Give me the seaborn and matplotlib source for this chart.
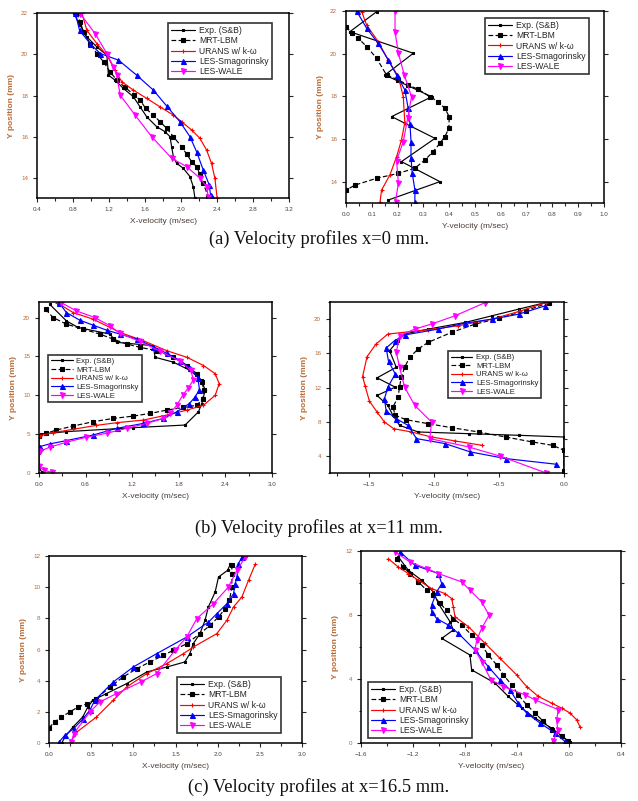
import matplotlib
matplotlib.use("Agg")
import matplotlib.pyplot as plt
import seaborn as sns
from matplotlib.ticker import MultipleLocator

sns.set_theme(style="white")
plt.rcParams["font.family"] = ["Liberation Sans", "DejaVu Sans"]

# ---------------- series names ----------------
SERIES = ["Exp. (S&B)", "MRT-LBM", "URANS w/ k-ω", "LES-Smagorinsky", "LES-WALE"]

# ---------------- (a) x = 0 mm, X-velocity ----------------
a1_exp_v = [0.806, 0.88, 0.954, 1.065, 1.176, 1.194, 1.268, 1.36, 1.471, 1.545, 1.619, 1.73, 1.822, 1.878, 1.896, 1.915, 1.951, 2.025, 2.099, 2.136, 2.155]
a1_exp_y = [22.0, 21.4, 20.84, 20.36, 19.96, 18.99, 18.75, 18.35, 17.95, 17.46, 16.98, 16.5, 16.26, 16.02, 15.53, 15.05, 14.73, 14.49, 14.09, 13.6, 13.04]
a1_mrt_v = [0.84, 0.88, 0.917, 0.991, 1.065, 1.139, 1.213, 1.287, 1.379, 1.482, 1.545, 1.608, 1.693, 1.767, 1.841, 1.915, 2.007, 2.062, 2.118, 2.173, 2.21, 2.247, 2.302]
a1_mrt_y = [22.0, 21.57, 21.08, 20.52, 20.04, 19.64, 19.15, 18.75, 18.40, 18.03, 17.79, 17.38, 17.06, 16.74, 16.42, 16.02, 15.53, 15.18, 14.81, 14.57, 14.2, 13.76, 13.12]
a1_ura_v = [0.899, 0.954, 1.065, 1.176, 1.268, 1.342, 1.471, 1.619, 1.767, 1.915, 2.007, 2.118, 2.21, 2.284, 2.339, 2.376, 2.402]
a1_ura_y = [22.0, 21.16, 20.52, 19.96, 19.23, 18.67, 18.27, 17.87, 17.46, 17.06, 16.74, 16.34, 15.94, 15.37, 14.73, 14.01, 13.04]
a1_smg_v = [0.825, 0.873, 0.991, 1.102, 1.305, 1.508, 1.693, 1.841, 1.988, 2.099, 2.173, 2.247, 2.314, 2.328]
a1_smg_y = [22.0, 21.16, 20.52, 20.04, 19.72, 18.99, 18.27, 17.5, 16.74, 16.02, 15.29, 14.41, 13.68, 13.2]
a1_wal_v = [0.88, 1.046, 1.176, 1.25, 1.287, 1.324, 1.49, 1.674, 1.896, 2.062, 2.21, 2.284, 2.302]
a1_wal_y = [21.97, 21.0, 20.04, 19.39, 18.99, 18.03, 17.06, 16.02, 14.97, 14.57, 14.01, 13.6, 13.12]

# ---------------- (a) x = 0 mm, Y-velocity ----------------
a2_exp_v = [0.119, 0.015, 0.261, 0.151, 0.332, 0.177, 0.345, 0.215, 0.364, 0.164]
a2_exp_y = [21.97, 21.03, 20.02, 19.0, 17.98, 17.05, 16.03, 14.94, 14.0, 13.14]
a2_mrt_v = [0.001, 0.022, 0.048, 0.08, 0.119, 0.157, 0.203, 0.241, 0.28, 0.325, 0.357, 0.383, 0.4, 0.399, 0.383, 0.364, 0.338, 0.306, 0.267, 0.203, 0.119, 0.035, 0.001]
a2_mrt_y = [21.27, 20.95, 20.72, 20.33, 19.78, 19.0, 18.77, 18.53, 18.33, 17.98, 17.75, 17.44, 17.05, 16.5, 16.11, 15.8, 15.41, 15.02, 14.63, 14.39, 14.16, 13.84, 13.61]
a2_ura_v = [0.061, 0.08, 0.125, 0.164, 0.203, 0.222, 0.228, 0.215, 0.196, 0.17, 0.138, 0.132]
a2_ura_y = [21.97, 21.34, 20.56, 19.7, 18.92, 17.98, 16.77, 15.95, 15.17, 14.31, 13.61, 13.06]
a2_smg_v = [0.041, 0.08, 0.125, 0.164, 0.196, 0.228, 0.241, 0.248, 0.252, 0.252, 0.257, 0.267, 0.267]
a2_smg_y = [22.0, 21.19, 20.48, 19.7, 19.0, 18.3, 17.44, 16.7, 15.88, 15.09, 14.39, 13.61, 13.06]
a2_wal_v = [0.19, 0.19, 0.203, 0.226, 0.254, 0.239, 0.222, 0.196, 0.203, 0.192]
a2_wal_y = [22.0, 21.03, 20.02, 19.0, 17.98, 16.97, 15.88, 14.98, 13.95, 13.06]

# ---------------- (b) x = 11 mm, X-velocity ----------------
b1_exp_v = [0.138, 0.353, 0.504, 0.913, 0.999, 1.472, 1.494, 1.731, 1.946, 2.096, 2.139, 2.096, 2.053, 1.881, 1.214, 0.353, 0.03, 0.0, 0.0, 0.0, 0.04]
b1_exp_y = [21.7, 19.57, 18.72, 17.87, 16.81, 16.38, 14.89, 14.26, 13.19, 11.91, 10.64, 8.94, 7.87, 6.17, 5.83, 5.32, 5.02, 4.68, 2.55, 0.6, 0.1]
b1_mrt_v = [0.086, 0.181, 0.353, 0.568, 0.783, 0.956, 1.128, 1.3, 1.515, 1.731, 1.903, 2.032, 2.096, 2.127, 2.109, 2.032, 1.86, 1.644, 1.429, 1.214, 0.956, 0.697, 0.439, 0.224, 0.095, 0.0]
b1_mrt_y = [21.06, 20.0, 19.15, 18.51, 17.87, 17.23, 16.6, 16.17, 15.74, 14.89, 13.83, 12.77, 11.7, 10.64, 9.57, 8.72, 8.43, 8.09, 7.66, 7.32, 7.02, 6.6, 6.04, 5.53, 5.11, 4.77]
b1_ura_v = [0.232, 0.439, 0.697, 1.042, 1.343, 1.644, 1.903, 2.118, 2.269, 2.32, 2.269, 2.118, 1.903, 1.644, 1.343, 0.999, 0.74, 0.439, 0.181, 0.009]
b1_ura_y = [21.91, 20.64, 19.79, 18.09, 17.02, 15.74, 14.89, 13.83, 12.77, 11.49, 10.0, 8.72, 8.09, 7.45, 6.81, 6.47, 6.13, 5.62, 5.19, 4.81]
b1_smg_v = [0.258, 0.353, 0.525, 0.697, 0.87, 1.042, 1.257, 1.472, 1.644, 1.817, 1.946, 2.045, 2.066, 2.01, 1.937, 1.774, 1.601, 1.343, 0.999, 0.697, 0.353, 0.138, 0.009]
b1_smg_y = [21.91, 20.64, 19.66, 19.02, 18.38, 17.87, 17.23, 16.26, 15.4, 14.47, 13.53, 12.26, 10.72, 9.79, 8.94, 7.87, 7.02, 6.38, 5.74, 4.89, 4.17, 3.74, 3.4]
b1_wal_v = [0.288, 0.482, 0.719, 0.913, 1.042, 1.3, 1.558, 1.817, 1.954, 1.989, 1.924, 1.851, 1.774, 1.687, 1.601, 1.386, 1.128, 0.87, 0.611, 0.353, 0.138, 0.009, 0.0, 0.06, 0.172]
b1_wal_y = [21.91, 20.85, 20.0, 18.94, 17.96, 16.94, 15.66, 14.38, 13.19, 12.0, 10.98, 10.0, 8.72, 7.66, 7.02, 6.38, 5.74, 5.11, 4.6, 3.96, 3.32, 2.77, 0.9, 0.35, 0.08]

# ---------------- (b) x = 11 mm, Y-velocity ----------------
b2_exp_v = [-0.14, -0.347, -0.553, -0.76, -1.045, -1.226, -1.277, -1.342, -1.29, -1.438, -1.298, -1.438, -1.355, -1.316, -1.265, -1.122, -0.734, -0.347, 0.0, 0.0]
b2_exp_y = [21.94, 21.17, 20.39, 19.61, 18.83, 18.25, 17.48, 16.31, 14.37, 13.13, 12.04, 11.07, 9.9, 8.74, 7.57, 6.8, 6.6, 6.41, 6.21, 2.02]
b2_mrt_v = [-0.114, -0.295, -0.502, -0.683, -0.864, -1.045, -1.122, -1.187, -1.226, -1.252, -1.265, -1.277, -1.316, -1.298, -1.213, -1.045, -0.864, -0.657, -0.45, -0.243, -0.088, 0.0, 0.0]
b2_mrt_y = [21.94, 20.97, 20.08, 19.42, 18.45, 17.28, 16.5, 15.53, 14.37, 13.2, 12.04, 10.87, 9.71, 8.74, 8.23, 7.77, 7.3, 6.8, 6.21, 5.63, 5.24, 4.66, 2.2]
b2_ura_v = [-0.14, -0.347, -0.553, -0.812, -1.045, -1.355, -1.446, -1.515, -1.549, -1.531, -1.497, -1.438, -1.381, -1.309, -1.174, -1.019, -0.838, -0.631]
b2_ura_y = [21.94, 20.89, 20.0, 19.22, 18.76, 18.25, 17.09, 15.61, 13.28, 12.23, 10.41, 9.13, 7.96, 7.18, 6.8, 6.21, 5.75, 5.24]
b2_smg_v = [-0.145, -0.347, -0.553, -0.76, -0.967, -1.226, -1.303, -1.368, -1.35, -1.298, -1.355, -1.381, -1.368, -1.29, -1.2, -1.135, -0.915, -0.722, -0.45, -0.062]
b2_smg_y = [21.55, 20.58, 20.0, 19.53, 18.83, 18.14, 17.48, 16.62, 15.07, 13.59, 12.04, 10.68, 9.24, 8.35, 7.57, 6.02, 5.44, 4.47, 3.69, 3.03]
b2_wal_v = [-0.605, -0.838, -1.019, -1.148, -1.265, -1.29, -1.265, -1.226, -1.148, -1.019, -1.032, -0.734, -0.489, -0.14]
b2_wal_y = [21.94, 20.39, 19.42, 18.83, 18.06, 16.12, 14.37, 12.04, 9.9, 7.96, 6.02, 5.05, 3.96, 2.02]

# ---------------- (c) x = 16.5 mm, X-velocity ----------------
c1_exp_v = [2.15, 2.117, 2.01, 1.97, 1.89, 1.85, 1.79, 1.71, 1.67, 1.61, 1.40, 1.16, 0.92, 0.68, 0.52, 0.46, 0.40, 0.285, 0.19, 0.15]
c1_exp_y = [11.47, 11.08, 10.65, 9.69, 8.73, 7.87, 7.02, 6.37, 5.73, 5.2, 4.88, 4.56, 3.81, 3.17, 2.74, 2.31, 1.67, 1.03, 0.39, 0.0]
c1_mrt_v = [0.0, 0.067, 0.147, 0.246, 0.345, 0.452, 0.563, 0.721, 0.88, 1.04, 1.197, 1.356, 1.474, 1.633, 1.79, 1.91, 2.01, 2.089, 2.14, 2.168, 2.168, 2.168]
c1_mrt_y = [0.98, 1.35, 1.67, 1.99, 2.31, 2.52, 2.84, 3.59, 4.24, 4.77, 5.2, 5.63, 5.95, 6.37, 7.02, 7.55, 8.09, 8.62, 9.16, 10.01, 10.87, 11.4]
c1_ura_v = [0.266, 0.305, 0.563, 0.761, 0.92, 1.157, 1.395, 1.593, 1.712, 1.99, 2.109, 2.188, 2.287, 2.366, 2.445]
c1_ura_y = [0.06, 0.6, 1.67, 2.74, 3.59, 4.45, 5.09, 5.73, 6.16, 7.02, 7.87, 8.73, 9.37, 10.44, 11.47]
c1_smg_v = [0.119, 0.186, 0.293, 0.404, 0.484, 0.543, 0.761, 1.0, 1.276, 1.633, 1.891, 1.99, 2.109, 2.188, 2.208, 2.228, 2.247, 2.287]
c1_smg_y = [0.06, 0.49, 0.92, 1.56, 2.1, 2.74, 3.91, 4.88, 5.73, 6.8, 7.76, 8.3, 8.94, 9.58, 10.22, 10.65, 11.51, 11.94]
c1_wal_v = [0.266, 0.293, 0.484, 0.602, 0.8, 1.086, 1.276, 1.494, 1.633, 1.752, 1.95, 2.128, 2.228, 2.327]
c1_wal_y = [0.06, 0.6, 1.99, 2.63, 3.17, 3.91, 4.45, 5.95, 6.8, 7.98, 8.94, 10.01, 11.08, 11.94]

# ---------------- (c) x = 16.5 mm, Y-velocity ----------------
c2_exp_v = [-1.313, -1.236, -1.133, -1.044, -1.005, -0.915, -0.89, -0.979, -0.762, -0.749, -0.569, -0.467, -0.364, -0.262, -0.133, 0.008]
c2_exp_y = [11.63, 10.8, 10.17, 9.45, 8.72, 7.58, 7.06, 6.54, 5.5, 4.57, 3.74, 2.91, 2.18, 1.56, 0.93, 0.04]
c2_mrt_v = [-1.326, -1.274, -1.223, -1.159, -1.095, -1.044, -0.992, -0.941, -0.89, -0.826, -0.749, -0.672, -0.621, -0.556, -0.505, -0.441, -0.39, -0.326, -0.262, -0.197, -0.133, -0.056, -0.005]
c2_mrt_y = [11.52, 11.0, 10.59, 10.07, 9.55, 9.24, 8.72, 8.3, 7.78, 7.37, 6.75, 6.12, 5.5, 4.88, 4.26, 3.63, 3.01, 2.39, 1.87, 1.35, 0.83, 0.42, 0.1]
c2_ura_v = [-1.39, -1.313, -1.236, -1.159, -1.056, -0.954, -0.903, -0.89, -0.877, -0.774, -0.646, -0.531, -0.403, -0.326, -0.236, -0.133, -0.056, 0.008, 0.059, 0.085]
c2_ura_y = [11.52, 11.0, 10.59, 10.17, 9.65, 9.34, 9.03, 8.51, 7.89, 7.27, 6.23, 5.29, 4.26, 3.53, 2.91, 2.49, 2.18, 1.87, 1.45, 1.0]
c2_smg_v = [-1.3, -1.185, -1.005, -0.979, -1.018, -1.056, -1.056, -1.018, -0.928, -0.851, -0.723, -0.621, -0.531, -0.454, -0.39, -0.326, -0.223, -0.108, -0.031]
c2_smg_y = [11.94, 11.11, 10.59, 9.96, 9.45, 8.62, 8.2, 7.78, 7.37, 6.85, 5.81, 4.77, 3.94, 3.32, 2.49, 1.87, 1.25, 0.62, 0.1]
c2_wal_v = [-1.338, -1.223, -1.095, -1.005, -0.826, -0.762, -0.672, -0.615, -0.672, -0.71, -0.723, -0.672, -0.6, -0.505, -0.338, -0.262, -0.082, -0.095, -0.087, -0.121]
c2_wal_y = [11.94, 11.31, 10.9, 10.59, 10.07, 9.55, 8.82, 7.99, 7.16, 6.44, 5.81, 5.09, 3.94, 3.53, 3.01, 2.7, 2.08, 1.45, 0.83, 0.1]

# ---------------- captions ----------------
CAPTIONS = ["(a) Velocity profiles x=0 mm.",
            "(b) Velocity profiles at x=11 mm.",
            "(c) Velocity profiles at x=16.5 mm."]

STYLES = {
    "Exp. (S&B)":      dict(color="black",   marker="s", markersize=2.0, linestyle="-"),
    "MRT-LBM":         dict(color="black",   marker="s", markersize=2.8, linestyle=(0, (4, 2))),
    "URANS w/ k-ω":    dict(color="red",     marker="+", markersize=3.5, linestyle="-"),
    "LES-Smagorinsky": dict(color="blue",    marker="^", markersize=3.6, linestyle="-"),
    "LES-WALE":        dict(color="magenta", marker="v", markersize=3.6, linestyle="-"),
}

W, H = 638, 801
fig = plt.figure(figsize=(W / 100, H / 100), dpi=100, facecolor="white")


def make_axes(x0, y0, x1, y1):
    return fig.add_axes([x0 / W, 1 - y1 / H, (x1 - x0) / W, (y1 - y0) / H])


XCOL = "#4a3e38"
YCOL = "#b86a35"


def draw_panel(box, series, xlim, ylim, xmaj, ymaj, xlabel, leg_anchor,
               xmin=None, ymin=None, leg_fs=6.2):
    ax = make_axes(*box)
    for name, (v, y) in zip(SERIES, series):
        st = STYLES[name]
        sns.lineplot(x=v, y=y, ax=ax, sort=False, estimator=None, label=name,
                     color=st["color"], marker=st["marker"],
                     markersize=st["markersize"], linestyle=st["linestyle"],
                     linewidth=0.85, markeredgewidth=0.8,
                     markeredgecolor=st["color"])
    ax.set_xlim(*xlim)
    ax.set_ylim(*ylim)
    ax.xaxis.set_major_locator(MultipleLocator(xmaj))
    ax.yaxis.set_major_locator(MultipleLocator(ymaj))
    if xmin:
        ax.xaxis.set_minor_locator(MultipleLocator(xmin))
    if ymin:
        ax.yaxis.set_minor_locator(MultipleLocator(ymin))
    ax.set_xlabel(xlabel, fontsize=6, color=XCOL, labelpad=4)
    ax.set_ylabel("Y position (mm)", fontsize=6, color=YCOL, labelpad=4,
                  fontweight="bold")
    ax.tick_params(axis="x", which="both", bottom=True, direction="out",
                   labelsize=4.5, labelcolor=XCOL, width=0.8)
    ax.tick_params(axis="y", which="both", left=True, right=True,
                   direction="out", labelsize=4.5, labelcolor=YCOL, width=0.8)
    ax.tick_params(which="major", length=3)
    ax.tick_params(which="minor", length=1.8)
    for s in ax.spines.values():
        s.set_color("black")
        s.set_linewidth(1.1)
    leg = ax.legend(loc="upper left", bbox_to_anchor=leg_anchor,
                    borderaxespad=0, fontsize=leg_fs, frameon=True,
                    fancybox=False, handlelength=2.8, handletextpad=0.5,
                    labelspacing=0.15, borderpad=0.35)
    leg.get_frame().set_edgecolor("black")
    leg.get_frame().set_linewidth(1.2)
    return ax


draw_panel((37, 13, 289, 198),
           [(a1_exp_v, a1_exp_y), (a1_mrt_v, a1_mrt_y), (a1_ura_v, a1_ura_y),
            (a1_smg_v, a1_smg_y), (a1_wal_v, a1_wal_y)],
           (0.4, 3.2), (13.05, 22), 0.4, 2, "X-velocity (m/sec)",
           (0.52, 0.946), xmin=0.2)
draw_panel((346, 11, 604, 203),
           [(a2_exp_v, a2_exp_y), (a2_mrt_v, a2_mrt_y), (a2_ura_v, a2_ura_y),
            (a2_smg_v, a2_smg_y), (a2_wal_v, a2_wal_y)],
           (0.0, 1.0), (13.0, 22), 0.1, 2, "Y-velocity (m/sec)",
           (0.539, 0.964), xmin=0.05)
draw_panel((39, 302, 272, 473),
           [(b1_exp_v, b1_exp_y), (b1_mrt_v, b1_mrt_y), (b1_ura_v, b1_ura_y),
            (b1_smg_v, b1_smg_y), (b1_wal_v, b1_wal_y)],
           (0.0, 3.0), (0, 22), 0.6, 5, "X-velocity (m/sec)",
           (0.039, 0.69), xmin=0.3, leg_fs=5.6)
draw_panel((330, 302, 564, 473),
           [(b2_exp_v, b2_exp_y), (b2_mrt_v, b2_mrt_y), (b2_ura_v, b2_ura_y),
            (b2_smg_v, b2_smg_y), (b2_wal_v, b2_wal_y)],
           (-1.8, 0.0), (2, 22), 0.5, 4, "Y-velocity (m/sec)",
           (0.504, 0.713), xmin=0.25, ymin=2, leg_fs=5.6)
draw_panel((49, 556, 302, 743),
           [(c1_exp_v, c1_exp_y), (c1_mrt_v, c1_mrt_y), (c1_ura_v, c1_ura_y),
            (c1_smg_v, c1_smg_y), (c1_wal_v, c1_wal_y)],
           (0.0, 3.0), (0, 12), 0.5, 2, "X-velocity (m/sec)",
           (0.506, 0.353), xmin=0.25)
draw_panel((361, 551, 621, 743),
           [(c2_exp_v, c2_exp_y), (c2_mrt_v, c2_mrt_y), (c2_ura_v, c2_ura_y),
            (c2_smg_v, c2_smg_y), (c2_wal_v, c2_wal_y)],
           (-1.6, 0.4), (0, 12), 0.4, 4, "Y-velocity (m/sec)",
           (0.027, 0.318), xmin=0.2, ymin=2)

for cap, yc in zip(CAPTIONS, [239, 528, 787]):
    fig.text(0.5, 1 - yc / H, cap, ha="center", va="center", fontsize=13.3,
             family=["Liberation Serif", "DejaVu Serif"], color="#111111")

fig.savefig("out.png", dpi=100, facecolor="white")
